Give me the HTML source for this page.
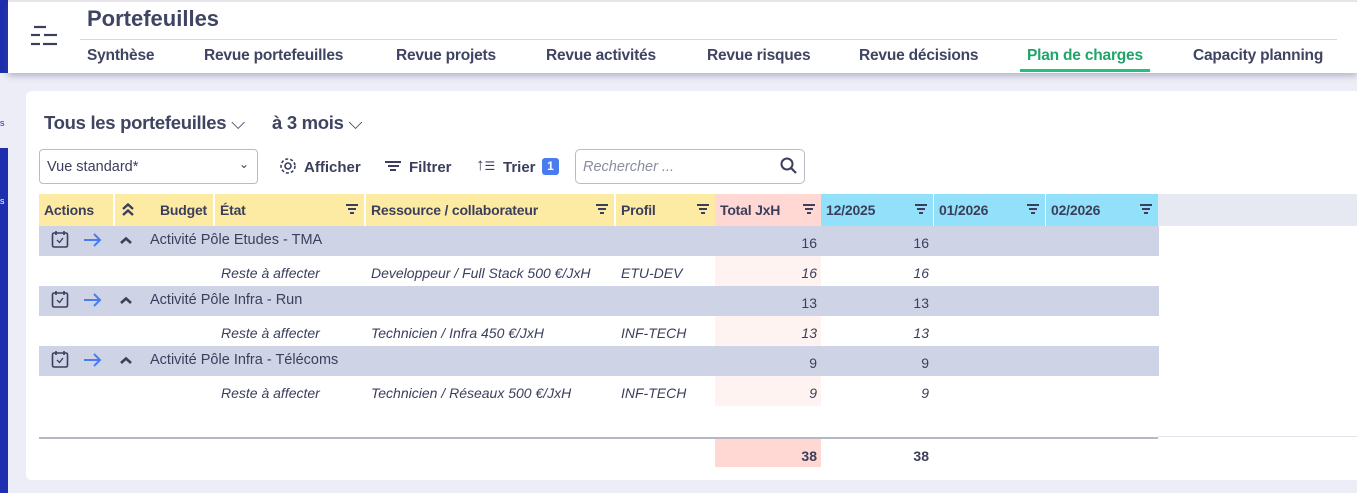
<!DOCTYPE html>
<html><head><meta charset="utf-8"><style>
*{margin:0;padding:0;box-sizing:border-box}
body{width:1357px;height:493px;overflow:hidden;background:#ecedf6;font-family:"Liberation Sans",sans-serif;color:#3b3f5c;position:relative}
.a{position:absolute;white-space:nowrap}
.nav{top:47px;font-size:15.5px;font-weight:bold;color:#3f4462;letter-spacing:-0.2px}
.hd{top:194px;height:32px;font-size:14px;font-weight:bold;padding:8px 5px;color:#3b3f5c;letter-spacing:-0.2px}
.y{background:#fdeba4}.p{background:#ffd7d3}.b{background:#93e0fa}
.fi{position:absolute;right:6px;top:10px;width:12px;height:10px}
.fi i{display:block;height:2px;background:#3b3f5c;margin:0 auto 2px}
.row{position:absolute;left:39px;width:1120px;height:30px;font-size:14px}
.g{background:#ced3e6}
.it{font-style:italic;font-size:14px}
.num{text-align:right}
</style></head><body>
<div class="a" style="left:0;top:0;width:8px;height:73px;background:#1d2fae"></div>
<div class="a" style="left:0;top:148px;width:8px;height:345px;background:#1d2fae"></div>
<div class="a" style="left:8px;top:0;width:1349px;height:73px;background:#fff;border-top:2px solid #e4e4ea;box-shadow:0 3px 6px rgba(80,80,120,.35)"></div>
<div class="a" style="left:0;top:118px;font-size:9px;color:#1d2fae">s</div>
<div class="a" style="left:0;top:196px;font-size:9px;color:#fff">s</div>
<svg class="a" style="left:30px;top:25px" width="28" height="22"><g stroke="#3b3f5c" stroke-width="2.2"><line x1="4" y1="2" x2="16" y2="2"/><line x1="1" y1="10" x2="10" y2="10"/><line x1="14" y1="10" x2="27" y2="10"/><line x1="1" y1="19" x2="10" y2="19"/><line x1="13" y1="19" x2="27" y2="19"/></g></svg>
<div class="a" style="left:87px;top:6px;font-size:22px;font-weight:bold;color:#3f4462">Portefeuilles</div>
<div class="a" style="left:80px;top:39px;width:1257px;height:1px;background:#d6d8e0"></div>
<div class="a nav" style="left:87px">Synthèse</div>
<div class="a nav" style="left:204px">Revue portefeuilles</div>
<div class="a nav" style="left:396px">Revue projets</div>
<div class="a nav" style="left:546px">Revue activités</div>
<div class="a nav" style="left:707px">Revue risques</div>
<div class="a nav" style="left:859px">Revue décisions</div>
<div class="a nav" style="left:1027px;color:#1fa56a">Plan de charges</div>
<div class="a" style="left:1020px;top:69px;width:130px;height:3px;background:#23c07e"></div>
<div class="a nav" style="left:1193px">Capacity planning</div>

<div class="a" style="left:26px;top:91px;width:1331px;height:389px;background:#fff;border-radius:6px 0 0 6px"></div>
<div class="a" style="left:44px;top:112px;font-size:18.5px;font-weight:bold;color:#3f4462;letter-spacing:-0.3px">Tous les portefeuilles <span style="font-weight:normal">⌵</span></div>
<div class="a" style="left:272px;top:112px;font-size:18.5px;font-weight:bold;color:#3f4462;letter-spacing:-0.3px">à 3 mois <span style="font-weight:normal">⌵</span></div>
<div class="a" style="left:39px;top:149px;width:219px;height:35px;border:1px solid #b9bcc8;border-radius:4px;font-size:14.5px;padding:9px 7px">Vue standard*<span style="position:absolute;right:8px;top:7px;font-size:12px">⌄</span></div>
<svg class="a" style="left:279px;top:157px" width="18" height="18"><circle cx="9" cy="9" r="3" fill="none" stroke="#3b3f5c" stroke-width="1.6"/><circle cx="9" cy="9" r="7" fill="none" stroke="#3b3f5c" stroke-width="1.6" stroke-dasharray="3 2"/></svg>
<div class="a" style="left:304px;top:159px;font-size:15px;font-weight:bold">Afficher</div>
<div class="a fi" style="left:385px;top:161px;width:16px;height:12px"><i style="width:16px"></i><i style="width:11px"></i><i style="width:6px"></i></div>
<div class="a" style="left:409px;top:159px;font-size:15px;font-weight:bold">Filtrer</div>
<div class="a" style="left:476px;top:155px;font-size:17px">↑<span style="font-size:12px">☰</span></div>
<div class="a" style="left:503px;top:159px;font-size:15px;font-weight:bold">Trier</div>
<div class="a" style="left:542px;top:158px;width:17px;height:17px;background:#4a7cf0;border-radius:3px;color:#fff;font-size:12px;font-weight:bold;text-align:center;line-height:17px">1</div>
<div class="a" style="left:575px;top:149px;width:230px;height:35px;border:1px solid #b9bcc8;border-radius:5px;font-size:14.5px;font-style:italic;color:#8a8da0;padding:9px 7px">Rechercher ...</div>
<svg class="a" style="left:780px;top:157px" width="18" height="18"><circle cx="7" cy="7" r="5.5" fill="none" stroke="#3b3f5c" stroke-width="2"/><line x1="11" y1="11" x2="16" y2="16" stroke="#3b3f5c" stroke-width="2.2"/></svg>

<div class="a" style="left:1158px;top:194px;width:199px;height:32px;background:#e7e9f2"></div>
<div class="a hd y" style="left:39px;width:74px">Actions</div>
<div class="a hd y" style="left:114px;width:99px;border-left:1px solid #fff"><svg style="position:absolute;left:7px;top:9px" width="12" height="13"><g fill="none" stroke="#3b3f5c" stroke-width="2.4"><polyline points="1,6 6,1.5 11,6"/><polyline points="1,12 6,7.5 11,12"/></g></svg><span style="position:absolute;right:6px">Budget</span></div>
<div class="a hd y" style="left:214px;width:150px;border-left:1px solid #fff">État<div class="fi"><i style="width:12px"></i><i style="width:8px"></i><i style="width:4px"></i></div></div>
<div class="a hd y" style="left:365px;width:249px;border-left:1px solid #fff">Ressource / collaborateur<div class="fi"><i style="width:12px"></i><i style="width:8px"></i><i style="width:4px"></i></div></div>
<div class="a hd y" style="left:615px;width:100px;border-left:1px solid #fff">Profil<div class="fi"><i style="width:12px"></i><i style="width:8px"></i><i style="width:4px"></i></div></div>
<div class="a hd p" style="left:715px;width:106px">Total JxH<div class="fi"><i style="width:12px"></i><i style="width:8px"></i><i style="width:4px"></i></div></div>
<div class="a hd b" style="left:821px;width:112px">12/2025<div class="fi"><i style="width:12px"></i><i style="width:8px"></i><i style="width:4px"></i></div></div>
<div class="a hd b" style="left:933px;width:112px;border-left:1px solid #fff">01/2026<div class="fi"><i style="width:12px"></i><i style="width:8px"></i><i style="width:4px"></i></div></div>
<div class="a hd b" style="left:1045px;width:113px;border-left:1px solid #fff">02/2026<div class="fi"><i style="width:12px"></i><i style="width:8px"></i><i style="width:4px"></i></div></div>

<div class="row g" style="top:226px"></div>
<div class="row g" style="top:286px"></div>
<div class="row g" style="top:346px"></div>
<div class="a" style="left:715px;top:256px;width:106px;height:30px;background:#fff3f2"></div>
<div class="a" style="left:715px;top:316px;width:106px;height:30px;background:#fff3f2"></div>
<div class="a" style="left:715px;top:376px;width:106px;height:30px;background:#fff3f2"></div>

<svg class="a" style="left:50px;top:230px" width="90" height="20"><rect x="2.5" y="3" width="15" height="14" rx="1.5" fill="none" stroke="#3b3f5c" stroke-width="1.6"/><line x1="6" y1="1" x2="6" y2="5" stroke="#3b3f5c" stroke-width="1.6"/><line x1="14" y1="1" x2="14" y2="5" stroke="#3b3f5c" stroke-width="1.6"/><polyline points="7,10 9.5,12.5 13,8" fill="none" stroke="#3b3f5c" stroke-width="1.3"/><g stroke="#4a7cf0" stroke-width="2" fill="none"><line x1="34" y1="10" x2="50" y2="10"/><polyline points="44,4 50,10 44,16"/></g><polyline points="71,13 76,8.5 81,13" fill="none" stroke="#3b3f5c" stroke-width="2.6"/></svg>
<div class="a" style="left:150px;top:232px;font-size:14.5px">Activité Pôle Etudes - TMA</div>
<svg class="a" style="left:50px;top:290px" width="90" height="20"><rect x="2.5" y="3" width="15" height="14" rx="1.5" fill="none" stroke="#3b3f5c" stroke-width="1.6"/><line x1="6" y1="1" x2="6" y2="5" stroke="#3b3f5c" stroke-width="1.6"/><line x1="14" y1="1" x2="14" y2="5" stroke="#3b3f5c" stroke-width="1.6"/><polyline points="7,10 9.5,12.5 13,8" fill="none" stroke="#3b3f5c" stroke-width="1.3"/><g stroke="#4a7cf0" stroke-width="2" fill="none"><line x1="34" y1="10" x2="50" y2="10"/><polyline points="44,4 50,10 44,16"/></g><polyline points="71,13 76,8.5 81,13" fill="none" stroke="#3b3f5c" stroke-width="2.6"/></svg>
<div class="a" style="left:150px;top:292px;font-size:14.5px">Activité Pôle Infra - Run</div>
<svg class="a" style="left:50px;top:350px" width="90" height="20"><rect x="2.5" y="3" width="15" height="14" rx="1.5" fill="none" stroke="#3b3f5c" stroke-width="1.6"/><line x1="6" y1="1" x2="6" y2="5" stroke="#3b3f5c" stroke-width="1.6"/><line x1="14" y1="1" x2="14" y2="5" stroke="#3b3f5c" stroke-width="1.6"/><polyline points="7,10 9.5,12.5 13,8" fill="none" stroke="#3b3f5c" stroke-width="1.3"/><g stroke="#4a7cf0" stroke-width="2" fill="none"><line x1="34" y1="10" x2="50" y2="10"/><polyline points="44,4 50,10 44,16"/></g><polyline points="71,13 76,8.5 81,13" fill="none" stroke="#3b3f5c" stroke-width="2.6"/></svg>
<div class="a" style="left:150px;top:352px;font-size:14.5px">Activité Pôle Infra - Télécoms</div>

<div class="a num" style="left:715px;top:235px;width:102px;font-size:14px">16</div>
<div class="a num" style="left:821px;top:235px;width:108px;font-size:14px">16</div>
<div class="a num" style="left:715px;top:295px;width:102px;font-size:14px">13</div>
<div class="a num" style="left:821px;top:295px;width:108px;font-size:14px">13</div>
<div class="a num" style="left:715px;top:355px;width:102px;font-size:14px">9</div>
<div class="a num" style="left:821px;top:355px;width:108px;font-size:14px">9</div>

<div class="a it" style="left:221px;top:265px">Reste à affecter</div>
<div class="a it" style="left:371px;top:265px">Developpeur / Full Stack 500 €/JxH</div>
<div class="a it" style="left:621px;top:265px">ETU-DEV</div>
<div class="a it num" style="left:715px;top:265px;width:102px">16</div>
<div class="a it num" style="left:821px;top:265px;width:108px">16</div>
<div class="a it" style="left:221px;top:325px">Reste à affecter</div>
<div class="a it" style="left:371px;top:325px">Technicien / Infra 450 €/JxH</div>
<div class="a it" style="left:621px;top:325px">INF-TECH</div>
<div class="a it num" style="left:715px;top:325px;width:102px">13</div>
<div class="a it num" style="left:821px;top:325px;width:108px">13</div>
<div class="a it" style="left:221px;top:385px">Reste à affecter</div>
<div class="a it" style="left:371px;top:385px">Technicien / Réseaux 500 €/JxH</div>
<div class="a it" style="left:621px;top:385px">INF-TECH</div>
<div class="a it num" style="left:715px;top:385px;width:102px">9</div>
<div class="a it num" style="left:821px;top:385px;width:108px">9</div>

<div class="a" style="left:39px;top:437px;width:1119px;height:2px;background:#b4b7c6"></div>
<div class="a" style="left:1158px;top:436px;width:199px;height:1px;background:#e2e4ec"></div>
<div class="a" style="left:715px;top:439px;width:106px;height:28px;background:#ffd7d3"></div>
<div class="a num" style="left:715px;top:448px;width:102px;font-size:14px;font-weight:bold">38</div>
<div class="a num" style="left:821px;top:448px;width:108px;font-size:14px;font-weight:bold">38</div>
</body></html>
